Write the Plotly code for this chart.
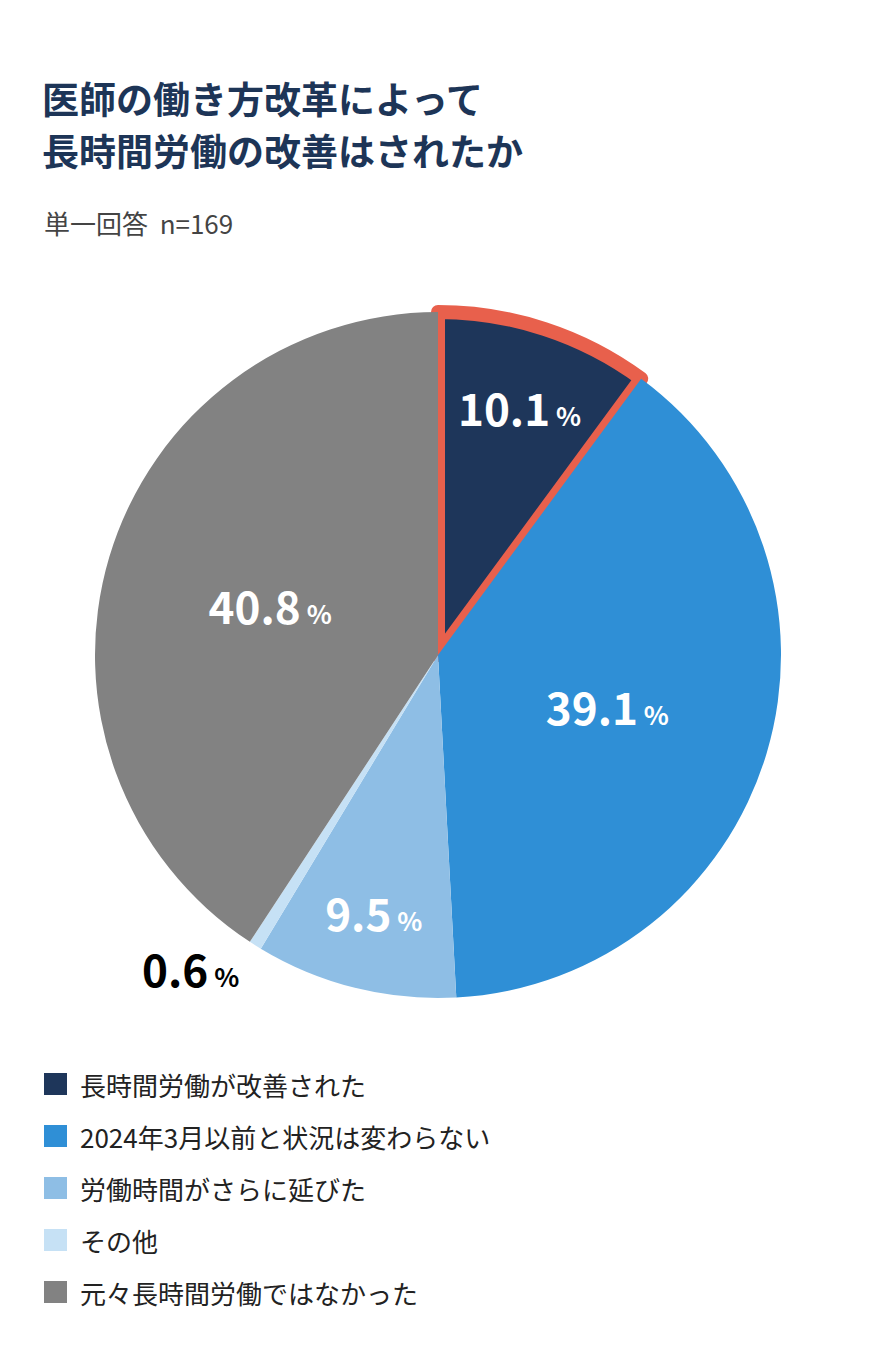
import plotly.graph_objects as go

labels = ["長時間労働が改善された", "2024年3月以前と状況は変わらない", "労働時間がさらに延びた", "その他", "元々長時間労働ではなかった"]
values = [10.1, 39.1, 9.5, 0.6, 40.8]
colors = ["#1e365a", "#2f8fd6", "#8ebee5", "#c6e1f5", "#828282"]
title_lines = ["医師の働き方改革によって", "長時間労働の改善はされたか"]
subtitle = "単一回答  n=169"

F = "Noto Sans CJK JP"
W, H = 878, 1370
DX, DY = -8, -7

def px(x):
    return (x + DX) / W

def py(y):
    return 1 - (y + DY) / H

texts = [f"<b>{v}</b><span style='font-size:26px'><b> %</b></span>" for v in values]
fig = go.Figure(go.Pie(
    values=values, labels=labels, sort=False, direction="clockwise", rotation=0,
    marker=dict(colors=colors, line=dict(color=["#e8604c", "white", "white", "white", "white"], width=[14, 0, 0, 0, 0])),
    text=texts, textinfo="text", texttemplate="%{text}",
    textposition=["inside", "inside", "inside", "outside", "inside"],
    insidetextorientation="horizontal",
    textfont=dict(family=F, size=44, color=["white", "white", "white", "black", "white"]),
    outsidetextfont=dict(family=F, size=44, color="black"),
    domain=dict(x=[px(95), px(781)], y=[py(997), py(311)]),
    showlegend=False, hoverinfo="skip",
))

ann = []
for i, t in enumerate(title_lines):
    ann.append(dict(x=px(40), y=py(97 + 52 * i), xref="paper", yref="paper", xanchor="left", yanchor="middle",
                    text=f"<b>{t}</b>", showarrow=False, font=dict(family=F, size=37, color="#1d3557")))
ann.append(dict(x=px(42), y=py(222), xref="paper", yref="paper", xanchor="left", yanchor="middle",
                text=subtitle, showarrow=False, font=dict(family=F, size=26, color="#444444")))
shapes = []
for i, (lab, c) in enumerate(zip(labels, colors)):
    yc = 1083 + 52 * i
    shapes.append(dict(type="rect", xref="paper", yref="paper", x0=px(44), x1=px(67),
                       y0=py(yc + 11), y1=py(yc - 11), fillcolor=c, line=dict(width=0)))
    ann.append(dict(x=px(78), y=py(yc), xref="paper", yref="paper", xanchor="left", yanchor="middle",
                    text=lab, showarrow=False, font=dict(family=F, size=26, color="#222222")))

fig.update_layout(width=W, height=H, margin=dict(l=0, r=0, t=0, b=0), paper_bgcolor="white",
                  annotations=ann, shapes=shapes, font=dict(family=F))
fig.write_html("out.html")
